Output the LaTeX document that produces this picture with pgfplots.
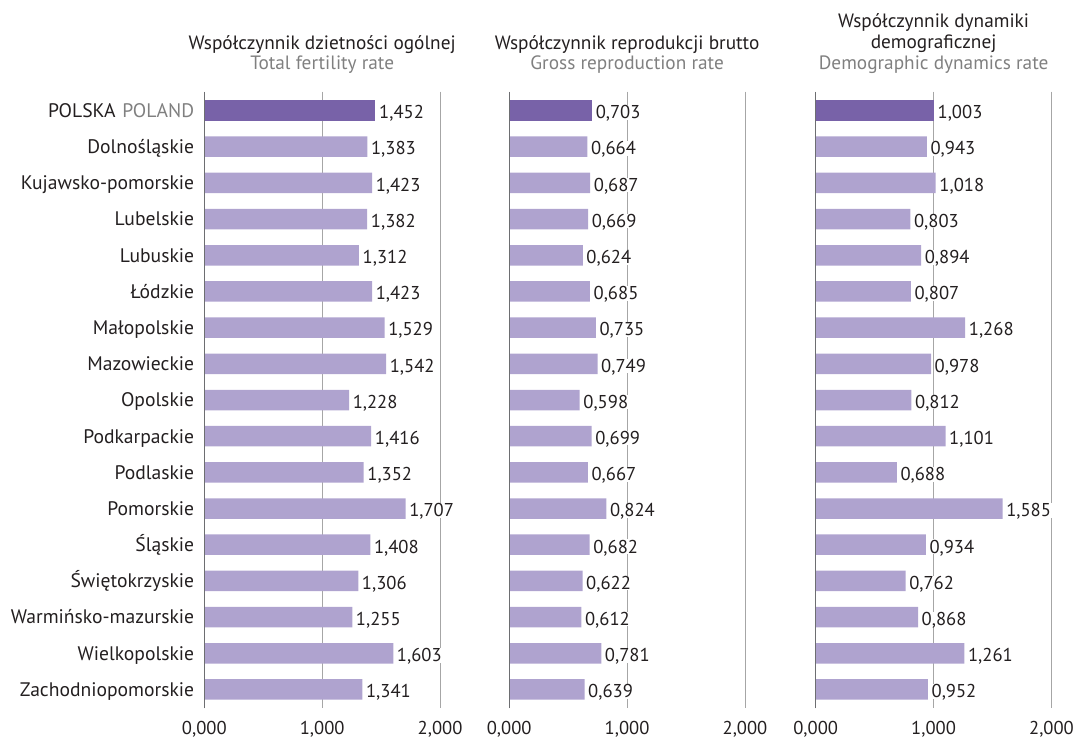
\documentclass[border=0pt]{standalone}
\usepackage{pgfplots}
\pgfplotsset{compat=1.18}
\usepackage{fontspec}
\setmainfont{PT Sans}
\definecolor{darkbar}{HTML}{7862A8}
\definecolor{lightbar}{HTML}{AFA3CF}
\definecolor{txt}{HTML}{231F20}
\definecolor{sub}{HTML}{808080}
\definecolor{gridc}{HTML}{A6A6A6}
\definecolor{axc}{HTML}{6D6E71}
\newcommand{\fs}{\fontsize{19.6}{22}\selectfont}
\newcommand{\fd}{\fontsize{18.6}{21}\selectfont}
\newcommand{\ft}{\fontsize{19.3}{21}\selectfont}

\pgfplotsset{panel/.style={
  xbar, scale only axis, width=235.8pt, height=616.6pt,
  xmin=0, xmax=2, ymin=-0.52, ymax=16.52, y dir=reverse,
  anchor=south west, bar width=20.5pt, bar shift=0pt,
  axis line style={draw=none}, major tick length=0pt,
  /pgf/number format/assume math mode=true,
  xtick={0,1,2}, xticklabels={{0,000},{1,000},{2,000}},
  xticklabel style={font=\fd, text=txt, inner sep=0pt, text height=12.6pt, text depth=0pt, anchor=north, yshift=-13.7pt},
  xmajorgrids, grid style={gridc, line width=0.9pt},
  ytick={0,...,16}, yticklabels={},
  point meta=x,
  nodes near coords={\pgfmathprintnumber[fixed,fixed zerofill,precision=3,use comma,assume math mode=true]{\pgfplotspointmeta}},
  every node near coord/.append style={anchor=west, fill=white, inner sep=1pt, font=\fd, text=txt, text height=12.6pt, text depth=0pt, xshift=2.5pt, yshift=-2pt},
  clip=false,
}}

\begin{document}
\begin{tikzpicture}
\path[use as bounding box] (0pt,0pt) rectangle (1076pt,738pt);

% Panel 1
\begin{axis}[panel, at={(204.3pt,29.7pt)},
  yticklabels={{POLSKA\hspace{0.35em}\textcolor{sub}{POLAND}},Dolnośląskie,Kujawsko-pomorskie,Lubelskie,Lubuskie,Łódzkie,Małopolskie,Mazowieckie,Opolskie,Podkarpackie,Podlaskie,Pomorskie,Śląskie,Świętokrzyskie,Warmińsko-mazurskie,Wielkopolskie,Zachodniopomorskie},
  yticklabel style={font=\fs, text=txt, inner sep=0pt, anchor=east, xshift=-10pt, text height=13.7pt, text depth=0pt}]
\addplot[fill=lightbar, draw=none] coordinates {(1.383,1) (1.423,2) (1.382,3) (1.312,4) (1.423,5) (1.529,6) (1.542,7) (1.228,8) (1.416,9) (1.352,10) (1.707,11) (1.408,12) (1.306,13) (1.255,14) (1.603,15) (1.341,16)};
\addplot[fill=darkbar, draw=none] coordinates {(1.452,0)};
\draw[axc, line width=1.1pt] (rel axis cs:0,0) -- (rel axis cs:0,1);
\end{axis}

% Panel 2
\begin{axis}[panel, at={(509.2pt,29.7pt)}]
\addplot[fill=lightbar, draw=none] coordinates {(0.664,1) (0.687,2) (0.669,3) (0.624,4) (0.685,5) (0.735,6) (0.749,7) (0.598,8) (0.699,9) (0.667,10) (0.824,11) (0.682,12) (0.622,13) (0.612,14) (0.781,15) (0.639,16)};
\addplot[fill=darkbar, draw=none] coordinates {(0.703,0)};
\draw[axc, line width=1.1pt] (rel axis cs:0,0) -- (rel axis cs:0,1);
\end{axis}

% Panel 3
\begin{axis}[panel, at={(815.7pt,29.7pt)}]
\addplot[fill=lightbar, draw=none] coordinates {(0.943,1) (1.018,2) (0.803,3) (0.894,4) (0.807,5) (1.268,6) (0.978,7) (0.812,8) (1.101,9) (0.688,10) (1.585,11) (0.934,12) (0.762,13) (0.868,14) (1.261,15) (0.952,16)};
\addplot[fill=darkbar, draw=none] coordinates {(1.003,0)};
\draw[axc, line width=1.1pt] (rel axis cs:0,0) -- (rel axis cs:0,1);
\end{axis}

% Titles
\node[anchor=base, font=\ft, text=txt] at (322.2pt,688.7pt) {Współczynnik dzietności ogólnej};
\node[anchor=base, font=\ft, text=sub] at (322.2pt,668pt) {Total fertility rate};
\node[anchor=base, font=\ft, text=txt] at (627.1pt,688.7pt) {Współczynnik reprodukcji brutto};
\node[anchor=base, font=\ft, text=sub] at (627.1pt,668pt) {Gross reproduction rate};
\node[anchor=base, font=\ft, text=txt] at (933.6pt,710pt) {Współczynnik dynamiki};
\node[anchor=base, font=\ft, text=txt] at (933.6pt,689pt) {demograficznej};
\node[anchor=base, font=\ft, text=sub] at (933.6pt,668pt) {Demographic dynamics rate};
\end{tikzpicture}
\end{document}
